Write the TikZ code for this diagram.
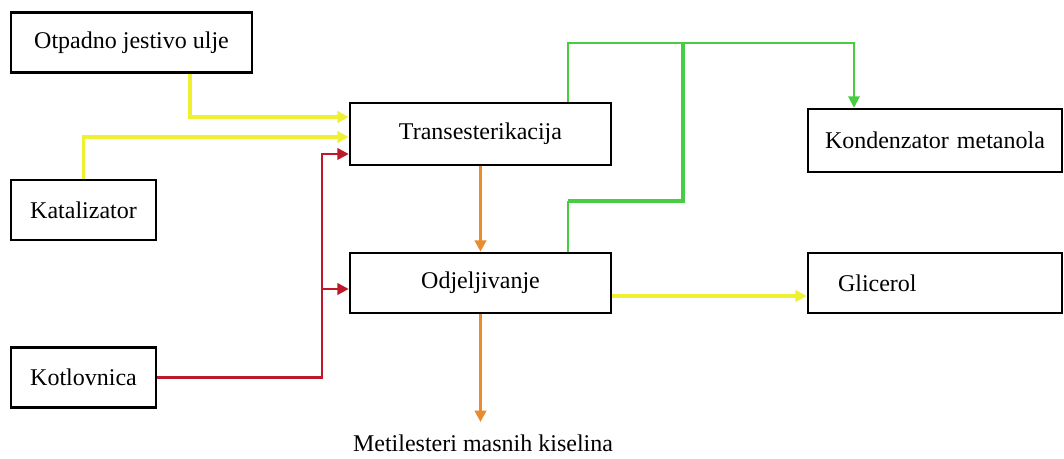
\documentclass[tikz,border=0pt]{standalone}
\usepackage{fontspec}
\setmainfont{Liberation Serif}
\usetikzlibrary{arrows.meta}

\definecolor{feedyellow}{RGB}{240,240,50}
\definecolor{heatred}{RGB}{190,25,40}
\definecolor{productorange}{RGB}{232,140,45}
\definecolor{vapourgreen}{RGB}{70,205,65}

\begin{document}
\begin{tikzpicture}[x=0.75pt,y=-0.75pt,>={Triangle[length=8.5pt,width=8.5pt]},
  box/.style={draw=black,line width=1.9pt,minimum height=45pt,inner sep=0pt,font=\fontsize{18}{21}\selectfont},
  feed/.style={->,draw=feedyellow,line width=2.4pt},
  heat/.style={->,draw=heatred,line width=2pt},
  product/.style={->,draw=productorange,line width=2.4pt},
  vapour/.style={draw=vapourgreen,line width=1.5pt}]
\useasboundingbox (0,0) rectangle (1064,459);

% process units
\node[box,minimum width=180.75pt] (oil) at (131.5,42.5) {Otpadno jestivo ulje};
\node[box,minimum width=108.75pt] (cat) at (83.5,210) {Katalizator};
\node[box,minimum width=108.75pt] (boiler) at (83.5,377.5) {Kotlovnica};
\node[box,minimum width=195.75pt,minimum height=46.5pt] (trans) at (480.5,134) {Transesterikacija};
\node[box,minimum width=195.75pt] (sep) at (480.5,283) {Odjeljivanje};
\node[box,minimum height=47.25pt,inner xsep=12.75pt,text width=165pt,align=left] (cond) at (935,140.5) {Kondenzator metanola};
\node[box,inner xsep=22.5pt,text width=145.5pt,align=left] (glyc) at (935,283) {Glicerol};
\node[font=\fontsize{18}{21}\selectfont,inner sep=0pt,anchor=north] (fame) at (483,435) {Metilesteri masnih kiselina};

% junctions
\coordinate (redbus) at (322,289);
\coordinate (top) at (683,43);

% oil and catalyst
\draw[feed] ([xshift=43.9pt]oil.south) |- ([yshift=12.75pt]trans.west);
\draw[feed] (cat.north) |- ([yshift=-2.25pt]trans.west);

% steam from the boiler
\draw[heat] (boiler.east) -| (redbus) |- ([yshift=-15pt]trans.west);
\draw[heat] (redbus) -- ([yshift=-4.5pt]sep.west);

% main product line
\draw[product] (trans.south) -- (sep.north);
\draw[product,shorten >=9.75pt] (sep.south) -- (sep.south |- fame.north);
\draw[feed] ([yshift=-9.75pt]sep.east) -- ([yshift=-9.75pt]glyc.west);

% methanol vapour
\draw[vapour,->] ([xshift=65.6pt]trans.north) |- (top) -| ([xshift=-60.75pt]cond.north);
\draw[vapour] ([xshift=65.6pt]sep.north) -- ++(0,-51) coordinate (knee);
\draw[vapour,line width=2.8pt] (knee) -| (top);
\end{tikzpicture}
\end{document}
